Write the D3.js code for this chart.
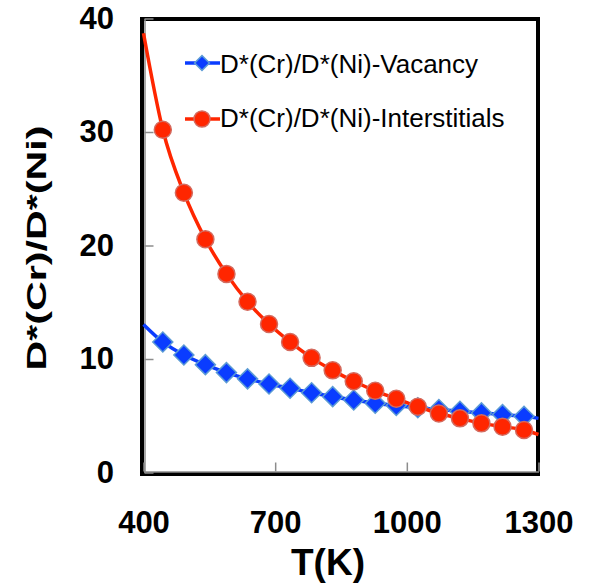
<!DOCTYPE html>
<html><head><meta charset="utf-8">
<script src="https://cdn.jsdelivr.net/npm/d3@7"></script>
<style>body{margin:0;background:#fff}svg{display:block}</style>
</head><body><svg id="c" width="591" height="587"></svg>
<script>
const temps = [444, 492, 541, 589, 637, 686, 734, 783, 831, 879, 928, 976, 1025, 1073, 1121, 1170, 1218, 1267];
const vacancy = [11.5, 10.35, 9.5, 8.8, 8.25, 7.8, 7.42, 7.03, 6.68, 6.39, 6.1, 5.9, 5.7, 5.55, 5.4, 5.25, 5.1, 4.95];
const interstitial = [30.2, 24.65, 20.55, 17.5, 15.05, 13.08, 11.5, 10.1, 9.0, 8.04, 7.2, 6.5, 5.8, 5.2, 4.77, 4.33, 4.04, 3.74];
const edgeTemps = [400, 1300];
const vacancyEdge = [13.05, 4.77];
const interstitialEdge = [38.7, 3.35];
const xTicks = [400, 700, 1000, 1300];
const yTicks = [0, 10, 20, 30, 40];
const seriesNames = ["D*(Cr)/D*(Ni)-Vacancy", "D*(Cr)/D*(Ni)-Interstitials"];
const xLabel = "T(K)";
const yLabel = "D*(Cr)/D*(Ni)";

const svg = d3.select("#c");
const x = d3.scaleLinear().domain([400, 1300]).range([143.5, 538.5]);
const y = d3.scaleLinear().domain([0, 40]).range([472.5, 18.5]);
const FONT = "'Liberation Sans', Arial, Helvetica, sans-serif";
const BLUE = "#0a3cff", RED = "#ff2600";

// plot frame
svg.append("rect").attr("x", 142).attr("y", 19).attr("width", 396).attr("height", 455)
  .attr("fill", "none").attr("stroke", "#000").attr("stroke-width", 4);

// axes
const gx = svg.append("g").attr("transform", "translate(0,471.5)")
  .call(d3.axisBottom(x).tickValues(xTicks).tickSizeInner(-9).tickSizeOuter(0).tickPadding(39.5).tickFormat(d3.format("d")));
const gy = svg.append("g").attr("transform", "translate(144.5,0)")
  .call(d3.axisLeft(y).tickValues(yTicks).tickSizeInner(-9).tickSizeOuter(0).tickPadding(30.5).tickFormat(d3.format("d")));
[gx, gy].forEach(g => {
  g.select(".domain").attr("stroke", "#8c8c8c").attr("stroke-width", 1.5);
  g.selectAll(".tick line").attr("stroke", "#8c8c8c").attr("stroke-width", 1.5);
  g.selectAll(".tick text").attr("fill", "#000").style("font-family", FONT)
    .style("font-size", "31px").style("font-weight", "bold");
});

// axis titles
svg.append("text").attr("x", 328).attr("y", 575).attr("text-anchor", "middle")
  .style("font-family", FONT).style("font-size", "37px").style("font-weight", "bold").text(xLabel);
svg.append("text").attr("transform", "translate(46,248) rotate(-90)").attr("text-anchor", "middle")
  .attr("textLength", 245).attr("lengthAdjust", "spacingAndGlyphs")
  .style("font-family", FONT).style("font-size", "28px").style("font-weight", "bold").text(yLabel);

const line = d3.line().x(d => x(d[0])).y(d => y(d[1])).curve(d3.curveMonotoneX);
function pts(vals, edge) {
  return [[edgeTemps[0], edge[0]], ...temps.map((t, i) => [t, vals[i]]), [edgeTemps[1], edge[1]]];
}
const diamond = d3.symbol().type(d3.symbolSquare).size(200);

// vacancy series
svg.append("path").attr("d", line(pts(vacancy, vacancyEdge))).attr("fill", "none")
  .attr("stroke", BLUE).attr("stroke-width", 3.5);
svg.append("g").selectAll("path").data(temps).join("path")
  .attr("d", diamond)
  .attr("transform", (t, i) => `translate(${x(t)},${y(vacancy[i])}) rotate(45)`)
  .attr("fill", BLUE).attr("stroke", "#5b9bd5").attr("stroke-width", 1.5);

// interstitial series
svg.append("path").attr("d", line(pts(interstitial, interstitialEdge))).attr("fill", "none")
  .attr("stroke", RED).attr("stroke-width", 3.5);
svg.append("g").selectAll("circle").data(temps).join("circle")
  .attr("cx", t => x(t)).attr("cy", (t, i) => y(interstitial[i])).attr("r", 8.5)
  .attr("fill", RED).attr("stroke", "#d46a5e").attr("stroke-width", 1.5);

// legend
const leg = svg.append("g");
const rows = [{y: 63, ty: 72.5, color: BLUE, type: "d"}, {y: 119, ty: 126.5, color: RED, type: "c"}];
rows.forEach((r, i) => {
  leg.append("line").attr("x1", 185).attr("x2", 220).attr("y1", r.y).attr("y2", r.y)
    .attr("stroke", r.color).attr("stroke-width", 3.5);
  if (r.type === "d") {
    leg.append("path").attr("d", d3.symbol().type(d3.symbolSquare).size(110))
      .attr("transform", `translate(202,${r.y}) rotate(45)`)
      .attr("fill", BLUE).attr("stroke", "#5b9bd5").attr("stroke-width", 1.5);
  } else {
    leg.append("circle").attr("cx", 202).attr("cy", r.y).attr("r", 8)
      .attr("fill", RED).attr("stroke", "#d46a5e").attr("stroke-width", 1.5);
  }
  leg.append("text").attr("x", 220).attr("y", r.ty)
    .style("font-family", FONT).style("font-size", "26px").text(seriesNames[i]);
});
</script></body></html>
